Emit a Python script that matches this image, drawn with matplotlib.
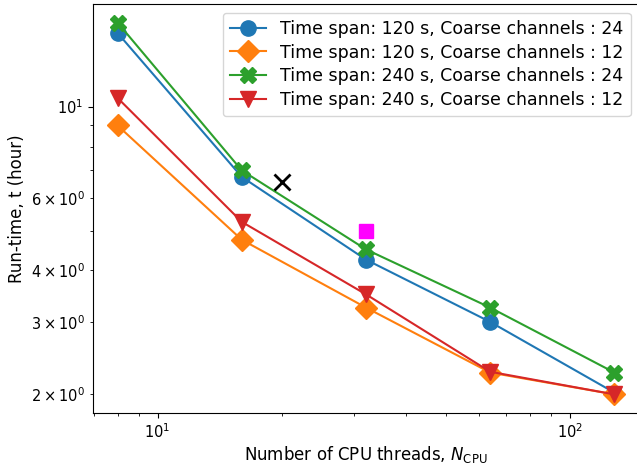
import numpy as np
import matplotlib
matplotlib.use("Agg")
import matplotlib.pyplot as plt

# number of CPU threads
n_cpu = [8, 16, 32, 64, 128]

# run-time in hours
t_120_24 = [15.1, 6.75, 4.25, 3.0, 2.02]
t_120_12 = [9.0, 4.75, 3.25, 2.26, 2.0]
t_240_24 = [16.0, 7.0, 4.5, 3.25, 2.26]
t_240_12 = [10.5, 5.25, 3.5, 2.27, 2.0]

labels = ["Time span: 120 s, Coarse channels : 24",
          "Time span: 120 s, Coarse channels : 12",
          "Time span: 240 s, Coarse channels : 24",
          "Time span: 240 s, Coarse channels : 12"]

# extra single points
x_black, y_black = 20, 6.55
x_mag, y_mag = 32, 5.0

fig = plt.figure(figsize=(6.37, 4.63), dpi=100)
ax = fig.add_axes([0.1455, 0.108, 0.858, 0.8834])

ax.plot(n_cpu, t_120_24, "-o", color="C0", lw=1.5, ms=11, label=labels[0])
ax.plot(n_cpu, t_120_12, "-D", color="C1", lw=1.5, ms=11, label=labels[1])
ax.plot(n_cpu, t_240_24, "-X", color="C2", lw=1.5, ms=11, label=labels[2])
ax.plot(n_cpu, t_240_12, "-v", color="C3", lw=1.5, ms=11, label=labels[3])
ax.plot(x_black, y_black, "x", color="black", ms=11, mew=2)
ax.plot(x_mag, y_mag, "s", color="magenta", ms=10)

ax.set_xscale("log")
ax.set_yscale("log")
ax.tick_params(labelsize=10.5)
ax.tick_params(which="minor", labelsize=10.5)

ax.set_xlabel(r"Number of CPU threads, $N_{\mathrm{CPU}}$", fontsize=12, labelpad=1.5)
ax.set_ylabel("Run-time, t (hour)", fontsize=12)
ax.legend(loc="upper right", fontsize=12.5, labelspacing=0.34, handlelength=2.1)

fig.savefig("out.png", dpi=100)
